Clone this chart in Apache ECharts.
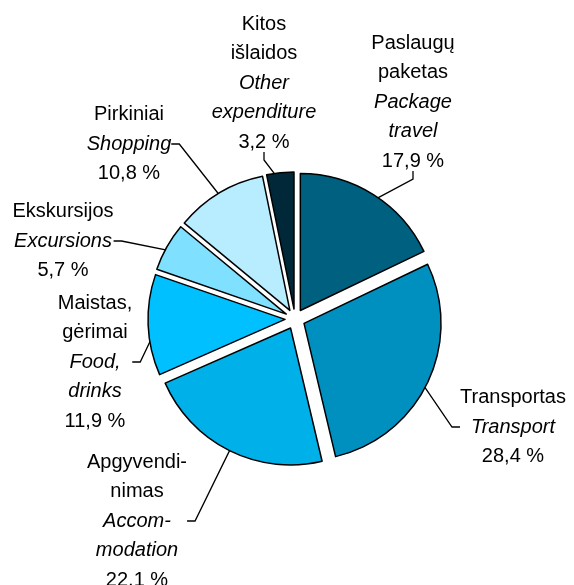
<!DOCTYPE html>
<html><head><meta charset="utf-8">
<script src="https://cdn.jsdelivr.net/npm/echarts@6/dist/echarts.min.js"></script>
<style>html,body{margin:0;padding:0;background:#fff}#c{width:574px;height:585px}</style>
</head><body><div id="c"></div>
<script>
const namesLt = [['Paslaugų','paketas'],['Transportas'],['Apgyvendi-','nimas'],['Maistas,','gėrimai'],['Ekskursijos'],['Pirkiniai'],['Kitos','išlaidos']];
const namesEn = [['Package','travel'],['Transport'],['Accom-','modation'],['Food,','drinks'],['Excursions'],['Shopping'],['Other','expenditure']];
const values = [17.9, 28.4, 22.1, 11.9, 5.7, 10.8, 3.2];
const valueLabels = ['17,9 %','28,4 %','22,1 %','11,9 %','5,7 %','10,8 %','3,2 %'];

const colors = ['#00607f','#0090c0','#00b0e8','#00c0ff','#80e0ff','#b8ecff','#002838'];
const labelPos = [[413,102],[513,427],[137,521],[95,362],[63,241],[129,144],[264,83]];

const font = 'Liberation Sans, Arial, sans-serif';
const common = {
  type: 'pie',
  center: [295, 319],
  radius: [0, 137],
  startAngle: 90,
  clockwise: true,
  avoidLabelOverlap: false,
  emphasis: { disabled: true },
  animation: false
};

const chart = echarts.init(document.getElementById('c'), null, {renderer: 'canvas'});
chart.setOption({
  animation: false,
  series: [
    Object.assign({}, common, {
      name: 'pie',
      z: 3,
      selectedMode: 'multiple',
      selectedOffset: 10,
      itemStyle: { borderColor: '#000', borderWidth: 1.5 },
      select: { itemStyle: { borderColor: '#000', borderWidth: 1.5 } },
      label: { show: false },
      labelLine: { show: false },
      data: values.map((v, i) => ({
        value: v, name: namesEn[i].join(' '), selected: true,
        itemStyle: { color: colors[i] }
      }))
    }),
    Object.assign({}, common, {
      name: 'labels',
      z: 1,
      silent: true,
      selectedMode: false,
      itemStyle: { color: 'rgba(0,0,0,0)', borderWidth: 0 },
      label: {
        show: true,
        position: 'outside',
        color: '#000',
        formatter: p => {
          const i = p.dataIndex;
          const a = namesLt[i].map(s => '{n|' + s + '}');
          const b = namesEn[i].map(s => '{i|' + s + '}');
          return a.concat(b, ['{n|' + valueLabels[i] + '}']).join('\n');
        },
        rich: {
          n: { fontFamily: font, fontSize: 20, lineHeight: 29.5, color: '#000' },
          i: { fontFamily: font, fontSize: 20, lineHeight: 29.5, fontStyle: 'italic', color: '#000' }
        }
      },
      labelLine: {
        show: true, length: 10, length2: 8,
        lineStyle: { color: '#000', width: 1.3 }
      },
      labelLayout: params => {
        const p = labelPos[params.dataIndex];
        return { x: p[0], y: p[1], align: 'center', verticalAlign: 'middle' };
      },
      data: values.map((v, i) => ({ value: v, name: namesEn[i].join(' ') }))
    })
  ]
});
</script>
</body></html>
